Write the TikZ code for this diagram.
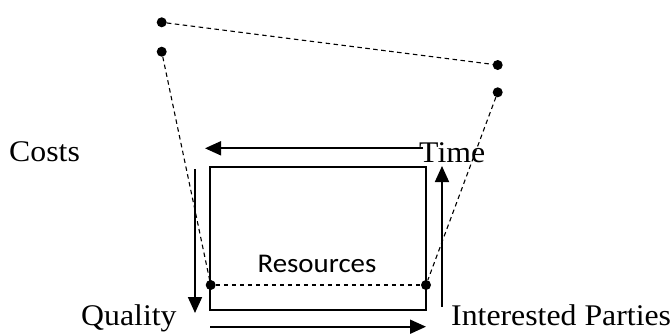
\documentclass[tikz,border=0pt]{standalone}
\usepackage{fontspec}
\setmainfont{Liberation Serif}
\newfontfamily\resfont{Carlito}
\usetikzlibrary{arrows.meta}
\begin{document}
\begin{tikzpicture}[x=1pt,y=-1pt,
  dot/.style={circle,fill=black,inner sep=0pt,minimum size=10pt},
  dline/.style={dash pattern=on 4.5pt off 3.5pt,line width=1.1pt},
  arr/.style={line width=1.8pt,-{Triangle[length=16pt,width=14pt]}},
  box/.style={line width=1.7pt},
  lbl/.style={font=\fontsize{30}{36}\selectfont,anchor=base west,inner sep=0pt},
  reslbl/.style={font=\resfont\fontsize{27}{32}\selectfont,anchor=base,inner sep=0pt}]
\useasboundingbox (0,0) rectangle (672,333);
% rectangle
\draw[box] (210,166.7) rectangle (426,310);
% dots
\node[dot] (a) at (161.7,22.3) {};
\node[dot] (b) at (161.7,51.7) {};
\node[dot] (c) at (497.7,65) {};
\node[dot] (d) at (497.7,92.3) {};
\node[dot] (e) at (210.7,285) {};
\node[dot] (f) at (426,285) {};
% dashed connectors
\draw[dline] (a) -- (c);
\draw[dline] (b) -- (e);
\draw[dline] (d) -- (f);
\draw[dline] (e) -- (f);
% arrow end points
\coordinate (t1) at (423,148.3);
\coordinate (t2) at (205,148.3);
\coordinate (l1) at (195,169);
\coordinate (l2) at (195,313);
\coordinate (r1) at (442,306.7);
\coordinate (r2) at (442,166);
\coordinate (b1) at (210,326.7);
\coordinate (b2) at (426,326.7);
\draw[arr] (t1) -- (t2);
\draw[arr] (l1) -- (l2);
\draw[arr] (r1) -- (r2);
\draw[arr] (b1) -- (b2);
% labels
\node[lbl] (costs) at (9,161) {\scalebox{1.06}[1]{Costs}};
\node[lbl] (time) at (419,162.7) {\scalebox{1.06}[1]{Time}};
\node[lbl] (quality) at (81,325) {\scalebox{1.06}[1]{Quality}};
\node[lbl] (parties) at (451,325) {\scalebox{1.06}[1]{Interested Parties}};
\node[reslbl] (res) at (317,272.3) {\scalebox{1.07}[1]{Resources}};
\end{tikzpicture}
\end{document}
